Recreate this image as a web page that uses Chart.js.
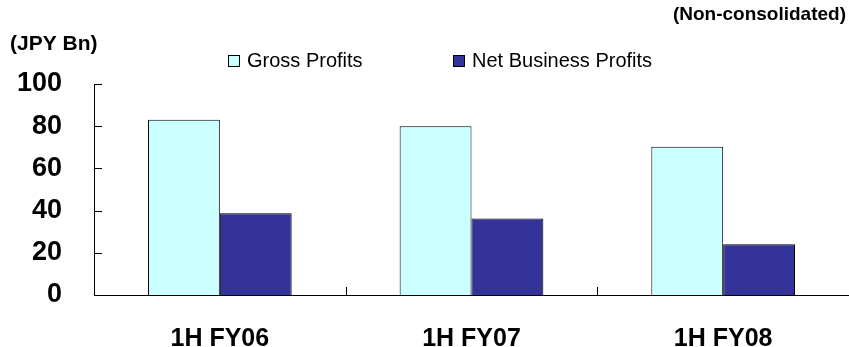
<!DOCTYPE html>
<html>
<head>
<meta charset="utf-8">
<script src="https://cdn.jsdelivr.net/npm/chart.js@4"></script>
<style>
  html, body { margin: 0; padding: 0; background: #fff; }
  #wrap { width: 849px; height: 347px; position: relative; }
</style>
</head>
<body>
<div id="wrap"><canvas id="profitChart"></canvas></div>
<script>
const periods = ['1H FY06', '1H FY07', '1H FY08'];
const grossProfits = [83, 80, 70.3];
const netBusinessProfits = [38.7, 36.2, 24];
const yTicks = [0, 20, 40, 60, 80, 100];

const FONT = "'Liberation Sans', Arial, sans-serif";

// axis ticks point into the plot, plus the legend and corner captions
const decorations = {
    id: 'decorations',
    afterDraw(chart) {
        const ctx = chart.ctx;
        const x = chart.scales.x;
        const y = chart.scales.y;
        const area = chart.chartArea;
        ctx.save();
        ctx.strokeStyle = '#000';
        ctx.lineWidth = 1;
        ctx.beginPath();
        yTicks.forEach(v => {
            const py = Math.round(y.getPixelForValue(v)) + 0.5;
            ctx.moveTo(area.left, py);
            ctx.lineTo(area.left + 8, py);
        });
        for (let i = 1; i < periods.length; i++) {
            const px = Math.round((x.getPixelForValue(i - 1) + x.getPixelForValue(i)) / 2) + 0.5;
            ctx.moveTo(px, area.bottom);
            ctx.lineTo(px, area.bottom - 8);
        }
        ctx.stroke();

        ctx.fillStyle = '#000';
        ctx.textBaseline = 'middle';
        ctx.font = 'bold 21px ' + FONT;
        ctx.textAlign = 'left';
        ctx.fillText('(JPY Bn)', 10, 44);
        ctx.font = 'bold 19px ' + FONT;
        ctx.textAlign = 'right';
        ctx.fillText('(Non-consolidated)', 846, 15);

        // legend
        const items = [
            { ds: chart.data.datasets[0], x: 228 },
            { ds: chart.data.datasets[1], x: 453 }
        ];
        ctx.font = '20px ' + FONT;
        ctx.textAlign = 'left';
        items.forEach(it => {
            ctx.fillStyle = it.ds.backgroundColor;
            ctx.fillRect(it.x, 55, 12, 12);
            ctx.strokeStyle = '#000';
            ctx.strokeRect(it.x + 0.5, 55.5, 11, 11);
            ctx.fillStyle = '#000';
            ctx.fillText(it.ds.label, it.x + 19, 61);
        });
        ctx.restore();
    }
};

new Chart(document.getElementById('profitChart'), {
    type: 'bar',
    data: {
        labels: periods,
        datasets: [
            {
                label: 'Gross Profits',
                data: grossProfits,
                backgroundColor: '#CCFFFF',
                borderColor: '#000',
                borderWidth: 1,
                categoryPercentage: 0.571,
                barPercentage: 1.0
            },
            {
                label: 'Net Business Profits',
                data: netBusinessProfits,
                backgroundColor: '#333399',
                borderColor: '#000',
                borderWidth: 1,
                categoryPercentage: 0.571,
                barPercentage: 1.0
            }
        ]
    },
    options: {
        responsive: true,
        maintainAspectRatio: false,
        animation: false,
        layout: { padding: { top: 84, left: 0, right: 0, bottom: 0 } },
        plugins: {
            legend: { display: false },
            tooltip: { enabled: false }
        },
        scales: {
            x: {
                grid: { display: false },
                border: { display: true, color: '#000', width: 1 },
                ticks: {
                    color: '#000',
                    padding: 21,
                    font: { family: FONT, size: 25, weight: 'bold' }
                },
                afterFit(scale) {
                    scale.height = 52;
                    scale.paddingLeft = 0;
                    scale.paddingRight = 0;
                }
            },
            y: {
                min: 0,
                max: 100,
                grid: { display: false },
                border: { display: true, color: '#000', width: 1 },
                ticks: {
                    stepSize: 20,
                    color: '#000',
                    padding: 24,
                    font: { family: FONT, size: 27, weight: 'bold' }
                },
                afterFit(scale) {
                    scale.width = 94;
                    scale.paddingTop = 0;
                    scale.paddingBottom = 0;
                }
            }
        }
    },
    plugins: [decorations]
});
</script>
</body>
</html>
